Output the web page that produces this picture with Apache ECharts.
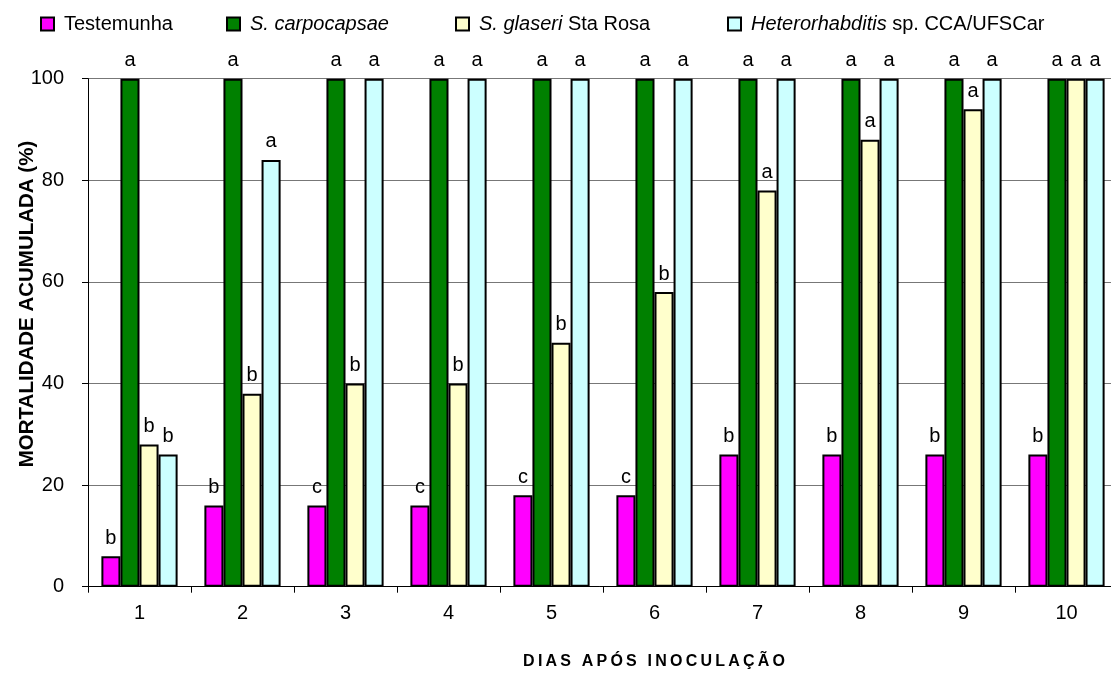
<!DOCTYPE html>
<html>
<head>
<meta charset="utf-8">
<script src="https://cdn.jsdelivr.net/npm/echarts@6/dist/echarts.min.js"></script>
<style>html,body{margin:0;padding:0;background:#fff}#c{width:1111px;height:673px}</style>
</head>
<body>
<div id="c"></div>
<script>
const categories = ['1','2','3','4','5','6','7','8','9','10'];
const seriesNames = ['Testemunha','S. carpocapsae','S. glaseri Sta Rosa','Heterorhabditis sp. CCA/UFSCar'];
const testemunha  = [6,16,16,16,18,18,26,26,26,26];
const carpocapsae = [100,100,100,100,100,100,100,100,100,100];
const glaseri     = [28,38,40,40,48,58,78,88,94,100];
const hetero      = [26,84,100,100,100,100,100,100,100,100];
const lettersT = ['b','b','c','c','c','c','b','b','b','b'];
const lettersC = ['a','a','a','a','a','a','a','a','a','a'];
const lettersG = ['b','b','b','b','b','b','a','a','a','a'];
const lettersH = ['b','a','a','a','a','a','a','a','a','a'];
const yMin = 0, yMax = 100, yStep = 20;
const yTitle = 'MORTALIDADE ACUMULADA (%)';
const xTitle = 'DIAS APÓS INOCULAÇÃO';

const colors = ['#FF00FF','#008000','#FFFFCC','#CCFFFF'];
const FONT = '"Liberation Sans", Arial, sans-serif';
const values = [testemunha, carpocapsae, glaseri, hetero];
const letters = [lettersT, lettersC, lettersG, lettersH];
const legendFmt = [
  n => n,
  n => '{i|S. carpocapsae}',
  n => '{i|S. glaseri} Sta Rosa',
  n => '{i|Heterorhabditis} sp. CCA/UFSCar'
];
const legendLeft = [40, 226, 455, 727];

const chart = echarts.init(document.getElementById('c'), null, {renderer:'canvas'});
const spaced = xTitle.split('').join('\u2009');
chart.setOption({
  animation: false,
  backgroundColor: '#fff',
  grid: {left: 88, top: 78.7, bottom: 86.3, width: 1030, containLabel: false, outerBoundsMode: 'none'},
  legend: seriesNames.map((n, i) => ({
    data: [n], left: legendLeft[i], top: 14, padding: 0, icon: 'rect',
    itemWidth: 13, itemHeight: 13, formatter: legendFmt[i],
    textStyle: {fontSize: 20, color: '#000', fontFamily: FONT, padding: [0,0,0,5],
      rich: {i: {fontSize: 20, fontStyle: 'italic', color: '#000', fontFamily: FONT}}}
  })),
  xAxis: {
    type: 'category', data: categories,
    axisLine: {lineStyle: {color: '#000', width: 1}},
    axisTick: {show: true, alignWithLabel: false, length: 6, lineStyle: {color: '#000'}},
    axisLabel: {fontSize: 20, color: '#000', fontFamily: FONT, margin: 17}
  },
  yAxis: {
    type: 'value', min: yMin, max: yMax, interval: yStep,
    axisLine: {show: true, lineStyle: {color: '#000', width: 1}},
    axisTick: {show: true, length: 6, lineStyle: {color: '#000'}},
    axisLabel: {fontSize: 20, color: '#000', fontFamily: FONT, margin: 24},
    splitLine: {show: true, lineStyle: {color: '#777', width: 1}}
  },
  graphic: [
    {type: 'text', x: 27, y: 304, rotation: Math.PI/2,
     style: {text: yTitle, fontSize: 20.5, fontWeight: 'bold', fontFamily: FONT, fill: '#000',
             textAlign: 'center', textVerticalAlign: 'middle'}},
    {type: 'text', x: 654, y: 662,
     style: {text: spaced, fontSize: 16, fontWeight: 'bold', fontFamily: FONT, fill: '#000',
             textAlign: 'center', textVerticalAlign: 'middle'}}
  ],
  series: seriesNames.map((n, i) => ({
    name: n, type: 'bar', data: values[i],
    barGap: '0%', barCategoryGap: '26%',
    itemStyle: {color: colors[i], borderColor: '#000', borderWidth: 2},
    label: {show: true, position: 'top', distance: 8, fontSize: 20, color: '#000', fontFamily: FONT,
            formatter: p => letters[i][p.dataIndex]}
  }))
});
</script>
</body>
</html>
